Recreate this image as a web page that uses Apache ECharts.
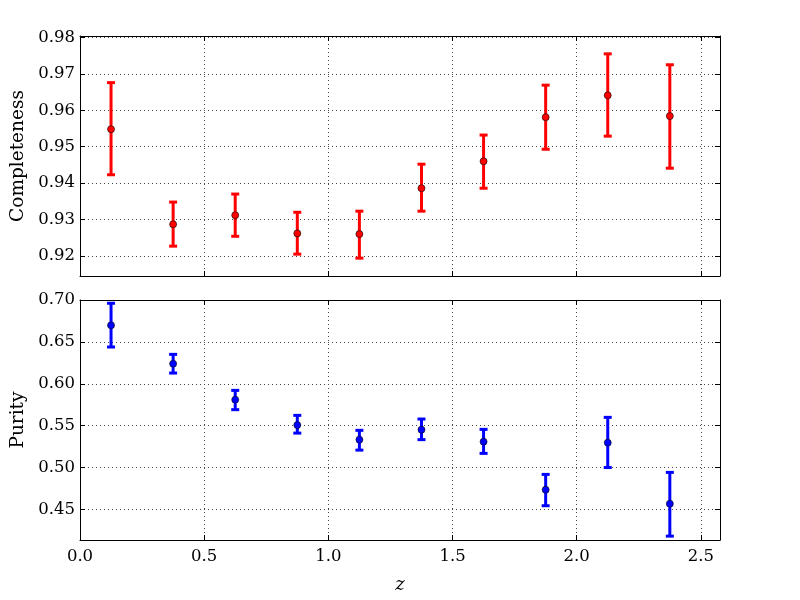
<!DOCTYPE html>
<html lang="en">
<head>
    <meta charset="UTF-8">
    <title>Completeness and purity</title>
    <script src="https://cdn.jsdelivr.net/npm/echarts@6/dist/echarts.min.js"></script>
</head>
<body style="margin:0">
<div id="main" style="width:800px;height:600px;"></div>
<script>
    var zBins = [0.125, 0.375, 0.625, 0.875, 1.125, 1.375, 1.625, 1.875, 2.125, 2.375];

    var compVal = [0.9548, 0.9287, 0.9312, 0.9262, 0.9260, 0.9386, 0.9460, 0.9581, 0.9641, 0.9584];
    var compLo = [0.9423, 0.9227, 0.9254, 0.9205, 0.9194, 0.9323, 0.9386, 0.9493, 0.9529, 0.9441];
    var compHi = [0.9676, 0.9348, 0.9370, 0.9320, 0.9323, 0.9452, 0.9532, 0.9669, 0.9755, 0.9725];

    var purVal = [0.6698, 0.6240, 0.5810, 0.5507, 0.5333, 0.5452, 0.5309, 0.4735, 0.5297, 0.4568];
    var purLo = [0.6439, 0.6128, 0.5691, 0.5411, 0.5208, 0.5333, 0.5169, 0.4544, 0.5000, 0.4181];
    var purHi = [0.6961, 0.6351, 0.5921, 0.5623, 0.5444, 0.5579, 0.5456, 0.4918, 0.5599, 0.4942];

    var xTicks = [0, 0.5, 1.0, 1.5, 2.0, 2.5];
    var compTicks = [0.92, 0.93, 0.94, 0.95, 0.96, 0.97, 0.98];
    var purTicks = [0.45, 0.50, 0.55, 0.60, 0.65, 0.70];

    var serif = 'DejaVu Serif';
    var gridLine = {show: true, lineStyle: {color: '#444', width: 1, type: [1, 3]}};
    var frame = {show: true, onZero: false, lineStyle: {color: '#000', width: 1}};

    function pairs(vals) {
        return zBins.map(function (z, i) { return [z, vals[i]]; });
    }
    function bars(lo, hi) {
        return zBins.map(function (z, i) { return [z, lo[i], hi[i]]; });
    }

    // vertical bar with caps, drawn through the axis scale
    function errRender(color) {
        return function (params, api) {
            var x = api.value(0);
            var lo = api.coord([x, api.value(1)]);
            var hi = api.coord([x, api.value(2)]);
            var w = 4;
            var st = {stroke: color, lineWidth: 3};
            return {
                type: 'group',
                children: [
                    {type: 'line', shape: {x1: lo[0], y1: lo[1], x2: hi[0], y2: hi[1]}, style: st},
                    {type: 'line', shape: {x1: lo[0] - w, y1: lo[1], x2: lo[0] + w, y2: lo[1]}, style: st},
                    {type: 'line', shape: {x1: hi[0] - w, y1: hi[1], x2: hi[0] + w, y2: hi[1]}, style: st}
                ]
            };
        };
    }

    function xAxis(grid, pos, labels) {
        return {
            type: 'value', gridIndex: grid, position: pos, min: 0, max: 2.577, interval: 0.5,
            axisLine: frame,
            axisTick: {show: true, inside: true, length: 5, customValues: xTicks, lineStyle: {color: '#000'}},
            axisLabel: {show: labels, customValues: xTicks, margin: 8, color: '#000', fontFamily: serif, fontSize: 16.5,
                formatter: function (v) { return v.toFixed(1); }},
            splitLine: pos === 'bottom' ? gridLine : {show: false}
        };
    }

    function yAxis(grid, pos, min, max, ticks, name) {
        return {
            type: 'value', gridIndex: grid, position: pos, min: min, max: max,
            name: pos === 'left' ? name : '',
            nameLocation: 'middle', nameRotate: 90, nameGap: 49,
            nameTextStyle: {color: '#000', fontFamily: serif, fontSize: 18.5},
            axisLine: frame,
            axisTick: {show: true, inside: true, length: 5, customValues: ticks, lineStyle: {color: '#000'}},
            axisLabel: {show: pos === 'left', customValues: ticks, margin: 5, color: '#000', fontFamily: serif, fontSize: 16.5,
                formatter: function (v) { return v.toFixed(2); }},
            splitLine: pos === 'left' ? gridLine : {show: false}
        };
    }

    var chart = echarts.init(document.getElementById('main'));
    var option = {
        backgroundColor: '#fff',
        animation: false,
        grid: [
            {left: 80, right: 80, top: 36, height: 240},
            {left: 80, right: 80, top: 300, height: 240}
        ],
        xAxis: [
            xAxis(0, 'bottom', false),
            Object.assign(xAxis(1, 'bottom', true), {
                name: 'z', nameLocation: 'middle', nameGap: 36,
                nameTextStyle: {color: '#000', fontFamily: serif, fontSize: 18, fontStyle: 'italic'}
            }),
            xAxis(0, 'top', false),
            xAxis(1, 'top', false)
        ],
        yAxis: [
            yAxis(0, 'left', 0.9145, 0.9804, compTicks, 'Completeness'),
            yAxis(1, 'left', 0.4135, 0.70, purTicks, 'Purity'),
            yAxis(0, 'right', 0.9145, 0.9804, compTicks, ''),
            yAxis(1, 'right', 0.4135, 0.70, purTicks, '')
        ],
        series: [
            {
                type: 'custom', xAxisIndex: 0, yAxisIndex: 0,
                renderItem: errRender('#ff0000'), data: bars(compLo, compHi),
                encode: {x: 0, y: [1, 2]}, z: 2
            },
            {
                type: 'scatter', xAxisIndex: 0, yAxisIndex: 0, data: pairs(compVal),
                symbolSize: 7, itemStyle: {color: '#ff0000', borderColor: '#000', borderWidth: 0.6, opacity: 1}, z: 3
            },
            {
                type: 'custom', xAxisIndex: 1, yAxisIndex: 1,
                renderItem: errRender('#0000ff'), data: bars(purLo, purHi),
                encode: {x: 0, y: [1, 2]}, z: 2
            },
            {
                type: 'scatter', xAxisIndex: 1, yAxisIndex: 1, data: pairs(purVal),
                symbolSize: 7, itemStyle: {color: '#0000ff', borderColor: '#000', borderWidth: 0.6, opacity: 1}, z: 3
            }
        ]
    };
    chart.setOption(option);
</script>
</body>
</html>
